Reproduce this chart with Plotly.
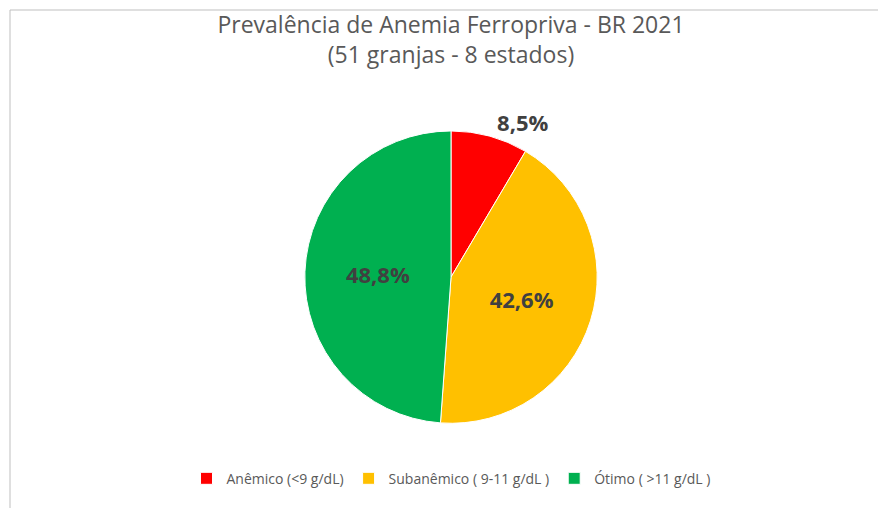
import plotly.graph_objects as go

labels = ["Anêmico (<9 g/dL)", "Subanêmico ( 9-11 g/dL )", "Ótimo ( >11 g/dL )"]
values = [8.5, 42.6, 48.8]
colors = ["#FF0000", "#FFC000", "#00B050"]
positions = ["outside", "inside", "inside"]

fig = go.Figure(go.Pie(
    labels=labels, values=values, sort=False, direction="clockwise", rotation=0,
    marker=dict(colors=colors, line=dict(color="#ffffff", width=1)),
    texttemplate="%{percent:.1%}", textposition=positions,
    textfont=dict(family="Open Sans", size=22, color="#404040", weight="bold"),
    insidetextorientation="horizontal",
    domain=dict(x=[0.2, 0.8], y=[0.18, 0.76]),
))
fig.update_layout(
    width=886, height=508, separators=",.",
    paper_bgcolor="white",
    margin=dict(l=2, r=2, t=2, b=2),
    title=dict(text="Prevalência de Anemia Ferropriva - BR 2021<br>(51 granjas - 8 estados)",
               x=0.5, y=0.95, xanchor="center", yanchor="top",
               font=dict(family="Open Sans", size=23, color="#595959")),
    legend=dict(orientation="h", x=0.5, xanchor="center", y=0.07, yanchor="middle",
                font=dict(family="Open Sans", size=14, color="#595959")),
    shapes=[dict(type="rect", xref="paper", yref="paper", x0=0, y0=0, x1=1, y1=1,
                 line=dict(color="#BFBFBF", width=1))],
)
fig.write_html("out.html")
